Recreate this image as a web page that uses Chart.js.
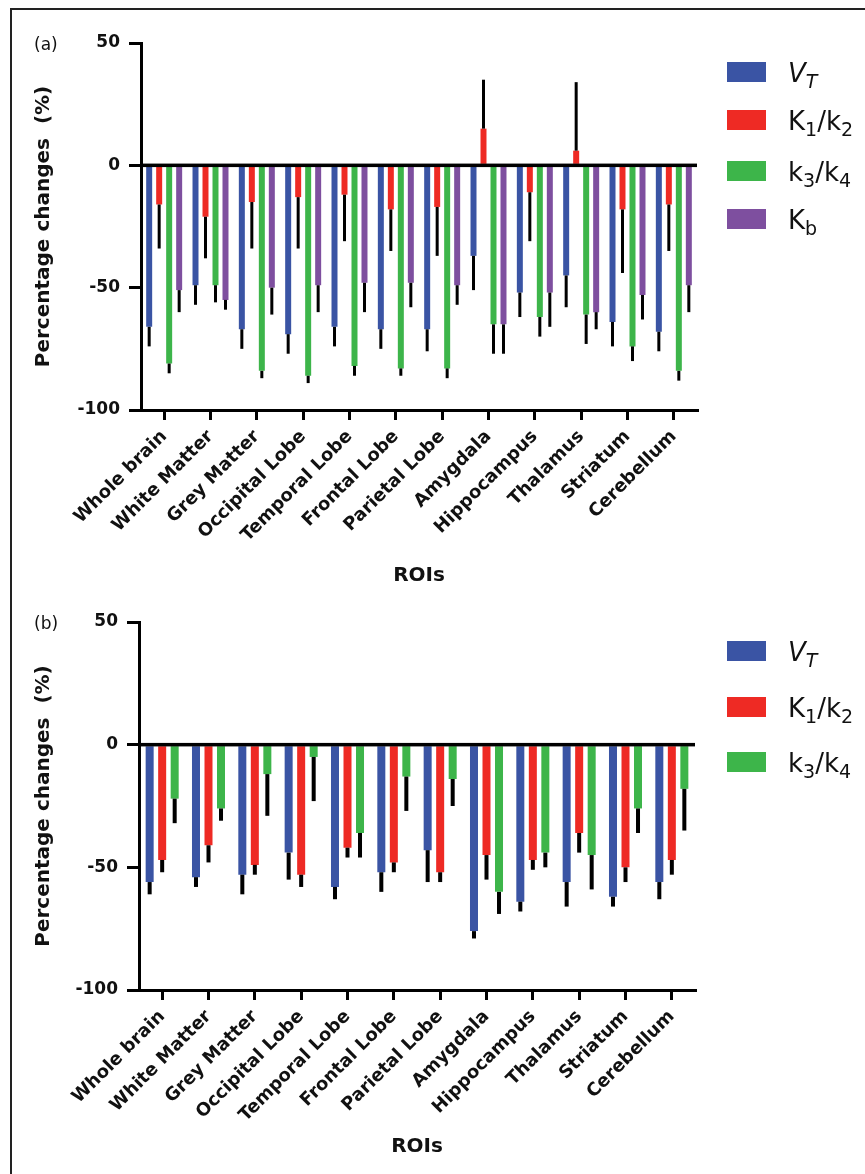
<!DOCTYPE html>
<html>
<head>
<meta charset="utf-8">
<script src="https://cdn.jsdelivr.net/npm/chart.js@4.4.1/dist/chart.umd.min.js"></script>
<style>
  html, body { margin:0; padding:0; background:#fff; }
  body { width:865px; height:1174px; position:relative; overflow:hidden; font-family:"DejaVu Sans", sans-serif; }
  .vline { position:absolute; left:10px; top:8px; width:2px; height:1166px; background:#222; }
  .hline { position:absolute; left:10px; top:8px; width:855px; height:2px; background:#222; }
  .wrap { position:absolute; left:0; width:865px; }
  .panel { position:absolute; font-size:17px; color:#111; }
  .sw { position:absolute; width:39px; height:20px; }
  .lt { position:absolute; font-size:26px; line-height:26px; color:#111; white-space:nowrap; }
  .lt sub { font-size:19px; vertical-align:-6px; line-height:0; }
</style>
</head>
<body>
<div class="vline"></div>
<div class="hline"></div>
<div class="wrap" style="top:0;height:600px"><canvas id="ca"></canvas></div>
<div class="wrap" style="top:600px;height:574px"><canvas id="cb"></canvas></div>
<div class="panel" style="left:34px;top:34px">(a)</div>
<div class="panel" style="left:34px;top:613px">(b)</div>
<div id="lega"></div>
<div id="legb"></div>
<script>
// ---------- data ----------
const categories = ['Whole brain','White Matter','Grey Matter','Occipital Lobe','Temporal Lobe','Frontal Lobe','Parietal Lobe','Amygdala','Hippocampus','Thalamus','Striatum','Cerebellum'];
const yTicks = [50, 0, -50, -100];

// panel (a): mean percentage change and end of error bar
const a_VT       = [-66,-49,-67,-69,-66,-67,-67,-37,-52,-45,-64,-68];
const a_VT_err   = [-74,-57,-75,-77,-74,-75,-76,-51,-62,-58,-74,-76];
const a_K1k2     = [-16,-21,-15,-13,-12,-18,-17, 15,-11,  6,-18,-16];
const a_K1k2_err = [-34,-38,-34,-34,-31,-35,-37, 35,-31, 34,-44,-35];
const a_k3k4     = [-81,-49,-84,-86,-82,-83,-83,-65,-62,-61,-74,-84];
const a_k3k4_err = [-85,-56,-87,-89,-86,-86,-87,-77,-70,-73,-80,-88];
const a_Kb       = [-51,-55,-50,-49,-48,-48,-49,-65,-52,-60,-53,-49];
const a_Kb_err   = [-60,-59,-61,-60,-60,-58,-57,-77,-66,-67,-63,-60];

// panel (b)
const b_VT       = [-56,-54,-53,-44,-58,-52,-43,-76,-64,-56,-62,-56];
const b_VT_err   = [-61,-58,-61,-55,-63,-60,-56,-79,-68,-66,-66,-63];
const b_K1k2     = [-47,-41,-49,-53,-42,-48,-52,-45,-47,-36,-50,-47];
const b_K1k2_err = [-52,-48,-53,-58,-46,-52,-56,-55,-51,-44,-56,-53];
const b_k3k4     = [-22,-26,-12, -5,-36,-13,-14,-60,-44,-45,-26,-18];
const b_k3k4_err = [-32,-31,-29,-23,-46,-27,-25,-69,-50,-59,-36,-35];

const seriesNames = ['VT', 'K1/k2', 'k3/k4', 'Kb'];
const seriesHtml  = ['<i>V<sub>T</sub></i>', 'K<sub>1</sub>/k<sub>2</sub>', 'k<sub>3</sub>/k<sub>4</sub>', 'K<sub>b</sub>'];
const colors = ['#3A54A4', '#EE2A24', '#3DB54A', '#7E4F9F'];

// ---------- helpers ----------
Chart.defaults.color = '#000';
Chart.defaults.font.family = '"DejaVu Sans", sans-serif';

const errorBarPlugin = {
  id: 'errorBars',
  afterDatasetsDraw(chart) {
    const ctx = chart.ctx;
    const ys = chart.scales.y;
    ctx.save();
    ctx.fillStyle = '#000';
    chart.data.datasets.forEach((ds, i) => {
      const meta = chart.getDatasetMeta(i);
      meta.data.forEach((bar, j) => {
        const yEnd = ys.getPixelForValue(ds.errEnd[j]);
        const w = bar.width * 0.5;
        const top = Math.min(bar.y, yEnd), h = Math.abs(yEnd - bar.y);
        ctx.fillRect(bar.x - w / 2, top, w, h);
      });
    });
    // zero line on top of bars
    const y0 = ys.getPixelForValue(0);
    ctx.fillRect(chart.chartArea.left, y0 - 1.75, chart.chartArea.right - chart.chartArea.left, 3.5);
    ctx.restore();
  }
};

function makeChart(canvasId, values, errs, opts) {
  const datasets = values.map((v, i) => ({
    label: seriesNames[i],
    data: v,
    errEnd: errs[i],
    backgroundColor: colors[i],
    borderWidth: 0,
    categoryPercentage: opts.catPct,
    barPercentage: opts.barPct
  }));
  return new Chart(document.getElementById(canvasId), {
    type: 'bar',
    data: { labels: categories, datasets },
    plugins: [errorBarPlugin],
    options: {
      responsive: true,
      maintainAspectRatio: false,
      animation: false,
      devicePixelRatio: 1,
      layout: { padding: opts.padding },
      plugins: { legend: { display: false }, tooltip: { enabled: false } },
      scales: {
        x: {
          grid: { display: true, drawOnChartArea: false, offset: false, tickLength: 10, lineWidth: 3, color: '#000' },
          border: { display: true, width: 3, color: '#000' },
          ticks: { minRotation: 45, maxRotation: 45, autoSkip: false, padding: 6, color: '#111',
                   font: { size: 18, weight: 'bold' } },
          title: { display: true, text: 'ROIs', padding: 0, color: '#111', font: { size: 20, weight: 'bold' } },
          afterFit(s) { s.height = opts.xHeight; }
        },
        y: {
          min: -100, max: 50,
          afterBuildTicks(s) { s.ticks = yTicks.map(v => ({ value: v })); },
          grid: { display: true, drawOnChartArea: false, tickLength: 12, lineWidth: 3, color: '#000' },
          border: { display: true, width: 3, color: '#000' },
          ticks: { padding: 9, color: '#111', font: { size: 17, weight: 'bold' } },
          title: { display: true, text: 'Percentage changes  (%)', padding: 0, color: '#111', font: { size: 20, weight: 'bold' } },
          afterFit(s) { s.width = opts.yWidth; }
        }
      }
    }
  });
}

makeChart('ca', [a_VT, a_K1k2, a_k3k4, a_Kb], [a_VT_err, a_K1k2_err, a_k3k4_err, a_Kb_err],
  { catPct: 0.863, barPct: 0.6, padding: { left: 32, top: 43, right: 168, bottom: 12 }, xHeight: 178, yWidth: 109 });
makeChart('cb', [b_VT, b_K1k2, b_k3k4], [b_VT_err, b_K1k2_err, b_k3k4_err],
  { catPct: 0.81, barPct: 0.64, padding: { left: 32, top: 22, right: 170, bottom: 15 }, xHeight: 169, yWidth: 107 });

// ---------- legends ----------
function buildLegend(id, n, tops) {
  const el = document.getElementById(id);
  let html = '';
  for (let i = 0; i < n; i++) {
    html += `<div class="sw" style="left:727px;top:${tops[i]}px;background:${colors[i]}"></div>`;
    html += `<div class="lt" style="left:788px;top:${tops[i] - 2}px">${seriesHtml[i]}</div>`;
  }
  el.innerHTML = html;
}
buildLegend('lega', 4, [62, 110, 161, 209]);
buildLegend('legb', 3, [641, 697, 752]);
</script>
</body>
</html>
